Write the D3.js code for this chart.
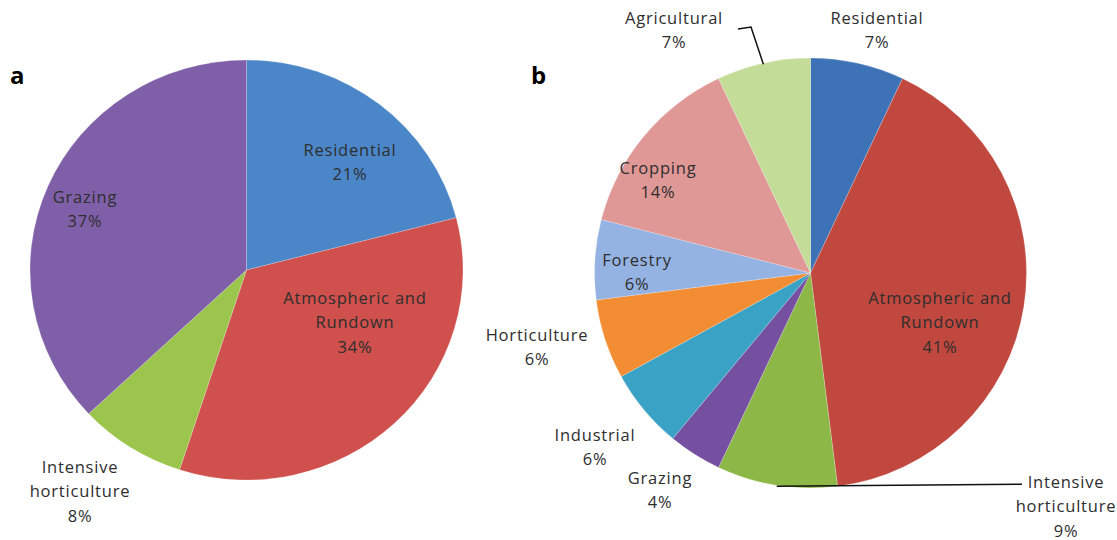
<!DOCTYPE html>
<html>
<head>
<meta charset="utf-8">
<script src="https://cdn.jsdelivr.net/npm/d3@7"></script>
<style>
  html, body { margin: 0; padding: 0; background: #ffffff; }
  svg { display: block; }
  text { font-family: "Open Sans", "DejaVu Sans", sans-serif; }
</style>
</head>
<body>
<script>
// ---------- data ----------
const categoriesA = ["Residential", "Atmospheric and Rundown", "Intensive horticulture", "Grazing"];
const valuesA = [21, 34, 8, 37];
const colorsA = ["#4a86c8", "#cf504c", "#9bc54d", "#7f60a8"];

const categoriesB = ["Residential", "Atmospheric and Rundown", "Intensive horticulture", "Grazing",
                     "Industrial", "Horticulture", "Forestry", "Cropping", "Agricultural"];
const valuesB = [7, 41, 9, 4, 6, 6, 6, 14, 7];
const colorsB = ["#3d72b7", "#c0483f", "#8db848", "#7550a0", "#3aa2c4", "#f28d33", "#95b3e2", "#e09896", "#c3dc98"];

// label text lines (category split + percentage)
const labelLinesA = [["Residential"], ["Atmospheric and", "Rundown"], ["Intensive", "horticulture"], ["Grazing"]];
const labelLinesB = [["Residential"], ["Atmospheric and", "Rundown"], ["Intensive", "horticulture"], ["Grazing"],
                     ["Industrial"], ["Horticulture"], ["Forestry"], ["Cropping"], ["Agricultural"]];

// ---------- layout ----------
const W = 1117, H = 540;
const pieA = { cx: 246.5, cy: 270, r: 216.5, sy: 0.97 };
const pieB = { cx: 810.5, cy: 273, r: 216, sy: 0.995 };
// label anchors (center x, first-line center y)
const labelPosA = [[350, 150], [355, 298], [80, 467], [85, 197]];
const labelPosB = [[877, 18], [940, 298], [1066, 482], [660, 478], [595, 435], [537, 335], [637, 260], [658, 168], [674, 18]];
const lineGap = 24.5;

const svg = d3.select("body").append("svg").attr("width", W).attr("height", H);

function drawPie(cfg, cats, vals, cols, lines, pos) {
  const pie = d3.pie().sort(null).value(d => d)(vals);
  const arc = d3.arc().innerRadius(0).outerRadius(cfg.r);
  const g = svg.append("g").attr("transform", `translate(${cfg.cx},${cfg.cy}) scale(1,${cfg.sy})`);
  g.selectAll("path").data(pie).join("path")
    .attr("d", arc)
    .attr("fill", (d, i) => cols[i])
    .attr("stroke", "rgba(255,255,255,0.35)")
    .attr("stroke-width", 0.6);

  const lg = svg.append("g");
  pie.forEach((d, i) => {
    const allLines = lines[i].concat([Math.round(vals[i]) + "%"]);
    const t = lg.append("text")
      .attr("text-anchor", "middle")
      .attr("font-size", 16.5)
      .attr("letter-spacing", 0.8)
      .attr("fill", "#2e2e2e");
    allLines.forEach((s, k) => {
      t.append("tspan").attr("x", pos[i][0]).attr("y", pos[i][1] + k * lineGap + 5.5).text(s);
    });
  });
  return pie;
}

drawPie(pieA, categoriesA, valuesA, colorsA, labelLinesA, labelPosA);
const pb = drawPie(pieB, categoriesB, valuesB, colorsB, labelLinesB, labelPosB);

// leader lines for pie b
const leader = svg.append("g").attr("stroke", "#111").attr("fill", "none").attr("stroke-width", 1.5);
// Agricultural leader: from label end to the slice edge
{
  const d = pb[8];
  const a = (d.startAngle + d.endAngle) / 2;
  const ex = pieB.cx + pieB.r * Math.sin(a);
  const ey = pieB.cy - pieB.r * pieB.sy * Math.cos(a) + 1;
  leader.append("path").attr("d", `M738,29 L751,27 L${ex},${ey}`);
}
// Intensive horticulture leader: along the bottom of the slice to the label
{
  const d = pb[2];
  const a = (d.startAngle + d.endAngle) / 2;
  const sx = pieB.cx + pieB.r * Math.sin(a);
  const sy = pieB.cy - pieB.r * pieB.sy * Math.cos(a) + 1;
  leader.append("path").attr("d", `M${sx},${sy} L1022,${sy - 2}`);
}

// panel letters
svg.append("text").attr("x", 10).attr("y", 84).attr("font-family", "Liberation Sans, Arial, sans-serif")
  .attr("font-weight", "bold").attr("font-size", 24).attr("fill", "#000").text("a");
svg.append("text").attr("x", 531).attr("y", 84).attr("font-family", "Liberation Sans, Arial, sans-serif")
  .attr("font-weight", "bold").attr("font-size", 24).attr("fill", "#000").text("b");
</script>
</body>
</html>
